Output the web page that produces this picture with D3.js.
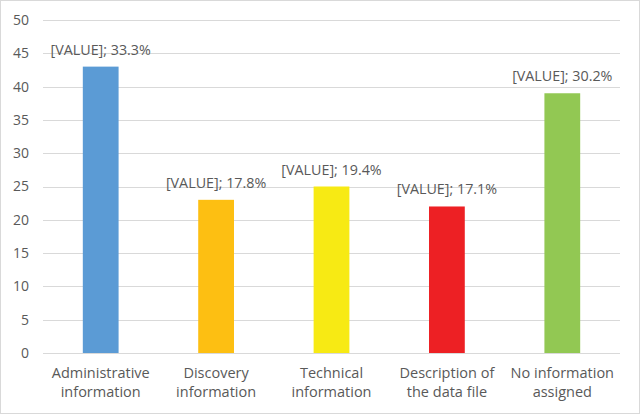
<!DOCTYPE html>
<html>
<head>
<meta charset="utf-8">
<script src="https://cdn.jsdelivr.net/npm/d3@7"></script>
<style>
  body { margin: 0; background: #fff; }
  #chart { width: 640px; height: 414px; }
  text { font-family: "Open Sans", "Noto Sans", sans-serif; fill: #595959; }
</style>
</head>
<body>
<div id="chart"></div>
<script>
// chart data
const categories = [
    ["Administrative", "information"],
    ["Discovery", "information"],
    ["Technical", "information"],
    ["Description of", "the data file"],
    ["No information", "assigned"]
];
const values = [43, 23, 25, 22, 39];
const percents = ["33.3%", "17.8%", "19.4%", "17.1%", "30.2%"];
const barColors = ["#5B9BD5", "#FDBF12", "#F7EA14", "#ED2024", "#92C853"];
const yTicks = [0, 5, 10, 15, 20, 25, 30, 35, 40, 45, 50];

const W = 640, H = 414;
const margin = {top: 20, right: 20, bottom: 61, left: 43};
const width = W - margin.left - margin.right;
const height = H - margin.top - margin.bottom;

const root = d3.select("#chart").append("svg")
    .attr("width", W)
    .attr("height", H);

// outer frame
root.append("rect")
    .attr("x", 0.5).attr("y", 0.5)
    .attr("width", W - 1).attr("height", H - 1)
    .attr("fill", "#fff")
    .attr("stroke", "#d9d9d9");

const svg = root.append("g")
    .attr("transform", "translate(" + margin.left + "," + margin.top + ")");

const x = d3.scaleBand()
    .domain(d3.range(categories.length))
    .range([0, width])
    .paddingInner(0.69)
    .paddingOuter(0.345);

const y = d3.scaleLinear()
    .domain([0, 50])
    .range([height, 0]);

// gridlines
svg.append("g")
    .selectAll("line")
    .data(yTicks)
    .join("line")
    .attr("x1", 0)
    .attr("x2", width)
    .attr("y1", d => Math.round(y(d)) + 0.5)
    .attr("y2", d => Math.round(y(d)) + 0.5)
    .attr("stroke", "#d9d9d9")
    .attr("stroke-width", 1);

// y axis labels
const yAxis = d3.axisLeft(y).tickValues(yTicks).tickSize(0).tickPadding(14);
svg.append("g")
    .attr("class", "y-axis")
    .call(yAxis)
    .call(g => g.select(".domain").remove())
    .selectAll("text")
    .attr("font-size", "14px")
    .style("font-family", "'Open Sans', 'Noto Sans', sans-serif")
    .attr("fill", "#595959");

// bars
svg.selectAll(".bar")
    .data(values)
    .join("rect")
    .attr("class", "bar")
    .attr("x", (d, i) => x(i))
    .attr("y", d => y(d))
    .attr("width", x.bandwidth())
    .attr("height", d => height - y(d))
    .attr("fill", (d, i) => barColors[i]);

// value labels
svg.selectAll(".val")
    .data(values)
    .join("text")
    .attr("class", "val")
    .attr("x", (d, i) => x(i) + x.bandwidth() / 2)
    .attr("y", d => y(d) - 12)
    .attr("text-anchor", "middle")
    .attr("font-size", "14.3px")
    .text((d, i) => "[VALUE]; " + percents[i]);

// category labels (two lines)
const cat = svg.selectAll(".cat")
    .data(categories)
    .join("text")
    .attr("class", "cat")
    .attr("text-anchor", "middle")
    .attr("font-size", "14.5px")
    .attr("transform", (d, i) => "translate(" + (x(i) + x.bandwidth() / 2) + "," + (height + 25) + ")");

cat.selectAll("tspan")
    .data(d => d)
    .join("tspan")
    .attr("x", 0)
    .attr("dy", (d, j) => j === 0 ? 0 : 19)
    .text(d => d);
</script>
</body>
</html>
